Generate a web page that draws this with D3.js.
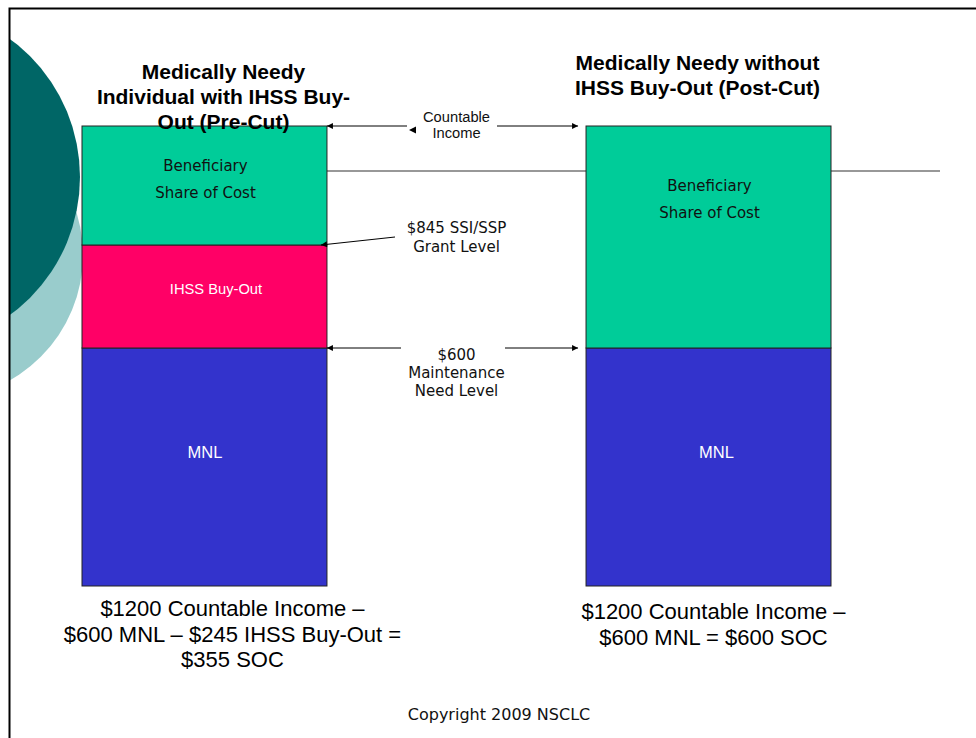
<!DOCTYPE html>
<html>
<head>
<meta charset="utf-8">
<script src="https://cdn.jsdelivr.net/npm/d3@7"></script>
<style>
  html, body { margin: 0; padding: 0; background: #fff; }
  svg { display: block; }
</style>
</head>
<body>
<svg id="chart" width="976" height="738"></svg>
<script>
// data
var bars = ["Pre-Cut", "Post-Cut"];
var mnl = [600, 600];
var ihssBuyOut = [245, 0];
var shareOfCost = [355, 600];
var segmentKeys = ["mnl", "ihss", "soc"];
var segmentColors = ["#3333cc", "#ff0066", "#00cc99"];

var titles = [
    ["Medically Needy", "Individual with IHSS Buy-", "Out (Pre-Cut)"],
    ["Medically Needy without", "IHSS Buy-Out (Post-Cut)"]
];
var formulas = [
    ["$1200 Countable Income \u2013", "$600 MNL \u2013 $245 IHSS Buy-Out =", "$355 SOC"],
    ["$1200 Countable Income \u2013", "$600 MNL = $600 SOC"]
];
var levels = [1200, 845, 600];
var levelLabels = [
    ["Countable", "Income"],
    ["$845 SSI/SSP", "Grant Level"],
    ["$600", "Maintenance", "Need Level"]
];

var rows = bars.map(function (b, i) {
    return { bar: b, mnl: mnl[i], ihss: ihssBuyOut[i], soc: shareOfCost[i] };
});

var svg = d3.select("#chart");
var ARIAL = "'Liberation Sans', Arial, sans-serif";
var VERD = "'DejaVu Sans', Verdana, sans-serif";

// slide template decoration
svg.append("circle").attr("cx", -61).attr("cy", 255).attr("r", 144).attr("fill", "#99cccc");
svg.append("circle").attr("cx", -91).attr("cy", 177).attr("r", 171).attr("fill", "#006666");
svg.append("rect").attr("x", 0).attr("y", 0).attr("width", 9).attr("height", 738).attr("fill", "#fff");
svg.append("path").attr("d", "M9.5,738V8.5H976")
    .attr("fill", "none").attr("stroke", "#000").attr("stroke-width", 2);
svg.append("line").attr("x1", 327).attr("x2", 940).attr("y1", 171).attr("y2", 171)
    .attr("stroke", "#333").attr("stroke-width", 1.2);

// scales (the slide is not drawn to scale, so a piecewise scale)
var x = d3.scaleBand().domain(bars).range([82, 831]).paddingInner(0.514).paddingOuter(0);
var y = d3.scaleLinear().domain([0, 600, 845, 1200]).range([586, 348, 245, 126]);

var series = d3.stack().keys(segmentKeys)(rows);

svg.append("g").selectAll("g")
    .data(series)
    .join("g")
    .attr("fill", function (d, i) { return segmentColors[i]; })
    .selectAll("rect")
    .data(function (d) { return d.filter(function (s) { return s[1] > s[0]; }); })
    .join("rect")
    .attr("x", function (d) { return x(d.data.bar); })
    .attr("y", function (d) { return y(d[1]); })
    .attr("width", x.bandwidth())
    .attr("height", function (d) { return y(d[0]) - y(d[1]); })
    .attr("stroke", "#222")
    .attr("stroke-width", 1);

// segment labels
var cx = function (b) { return x(b) + x.bandwidth() / 2; };
var mnlShift = [0.5, 8];
rows.forEach(function (r, i) {
    var c = cx(r.bar);
    svg.append("text").attr("x", c + mnlShift[i]).attr("y", y(r.mnl) + 110)
        .attr("text-anchor", "middle").attr("font-family", ARIAL).attr("font-size", 16.5)
        .attr("fill", "#fff").text("MNL");
    if (r.ihss > 0) {
        var mid = (y(r.mnl) + y(r.mnl + r.ihss)) / 2;
        svg.append("text").attr("x", c + 11.5).attr("y", mid - 3)
            .attr("text-anchor", "middle").attr("font-family", ARIAL).attr("font-size", 14.7)
            .attr("fill", "#fff").text("IHSS Buy-Out");
    }
    var top = y(r.mnl + r.ihss + r.soc);
    var off = r.ihss > 0 ? 45 : 65;
    svg.append("text").attr("x", c + 1).attr("y", top + off)
        .attr("text-anchor", "middle").attr("font-family", VERD).attr("font-size", 15)
        .attr("fill", "#111").text("Beneficiary");
    svg.append("text").attr("x", c + 1).attr("y", top + off + 27)
        .attr("text-anchor", "middle").attr("font-family", VERD).attr("font-size", 15)
        .attr("fill", "#111").text("Share of Cost");
});

// titles
var titleBase = [78.5, 69.5];
titles.forEach(function (lines, i) {
    var c = cx(bars[i]) + (i === 0 ? 19 : -11);
    lines.forEach(function (t, j) {
        svg.append("text").attr("x", c).attr("y", titleBase[i] + j * 25)
            .attr("text-anchor", "middle").attr("font-family", ARIAL)
            .attr("font-size", 21).attr("font-weight", "bold").attr("fill", "#000").text(t);
    });
});

// formulas under the bars
var formulaBase = [616, 619];
formulas.forEach(function (lines, i) {
    var c = cx(bars[i]) + (i === 0 ? 28 : 5);
    lines.forEach(function (t, j) {
        svg.append("text").attr("x", c).attr("y", formulaBase[i] + j * 25.5)
            .attr("text-anchor", "middle").attr("font-family", ARIAL)
            .attr("font-size", 22).attr("fill", "#000").text(t);
    });
});

// arrow markers
svg.append("defs").append("marker")
    .attr("id", "head").attr("viewBox", "0 0 10 10")
    .attr("refX", 10).attr("refY", 5)
    .attr("markerWidth", 8).attr("markerHeight", 6)
    .attr("markerUnits", "userSpaceOnUse")
    .attr("orient", "auto")
    .append("path").attr("d", "M0,0L10,5L0,10Z").attr("fill", "#000");

var leftEdge = x(bars[0]) + x.bandwidth();
var rightEdge = x(bars[1]);
var midX = (leftEdge + rightEdge) / 2;

function arrow(x1, y1, x2, y2) {
    svg.append("line").attr("x1", x1).attr("y1", y1).attr("x2", x2).attr("y2", y2)
        .attr("stroke", "#000").attr("stroke-width", 1).attr("marker-end", "url(#head)");
}

// countable income
arrow(407, y(levels[0]), leftEdge, y(levels[0]));
arrow(497, y(levels[0]), rightEdge - 8, y(levels[0]));
svg.append("path").attr("d", "M409,130L416,126.5L416,133.5Z").attr("fill", "#000");
// grant level
arrow(395, y(levels[1]) - 8, leftEdge - 6, y(levels[1]));
// maintenance need level
arrow(401, y(levels[2]), leftEdge, y(levels[2]));
arrow(505, y(levels[2]), rightEdge - 8, y(levels[2]));

var labelSpecs = [
    { font: ARIAL, size: 14.7, base: 122, step: 16 },
    { font: VERD, size: 15, base: 233, step: 19 },
    { font: VERD, size: 15, base: 360, step: 18 }
];
levelLabels.forEach(function (lines, i) {
    var s = labelSpecs[i];
    lines.forEach(function (t, j) {
        svg.append("text").attr("x", midX).attr("y", s.base + j * s.step)
            .attr("text-anchor", "middle").attr("font-family", s.font)
            .attr("font-size", s.size).attr("fill", "#111").text(t);
    });
});

// footer
svg.append("text").attr("x", 499).attr("y", 720)
    .attr("text-anchor", "middle").attr("font-family", VERD).attr("font-size", 16)
    .attr("fill", "#111").text("Copyright 2009 NSCLC");
</script>
</body>
</html>
